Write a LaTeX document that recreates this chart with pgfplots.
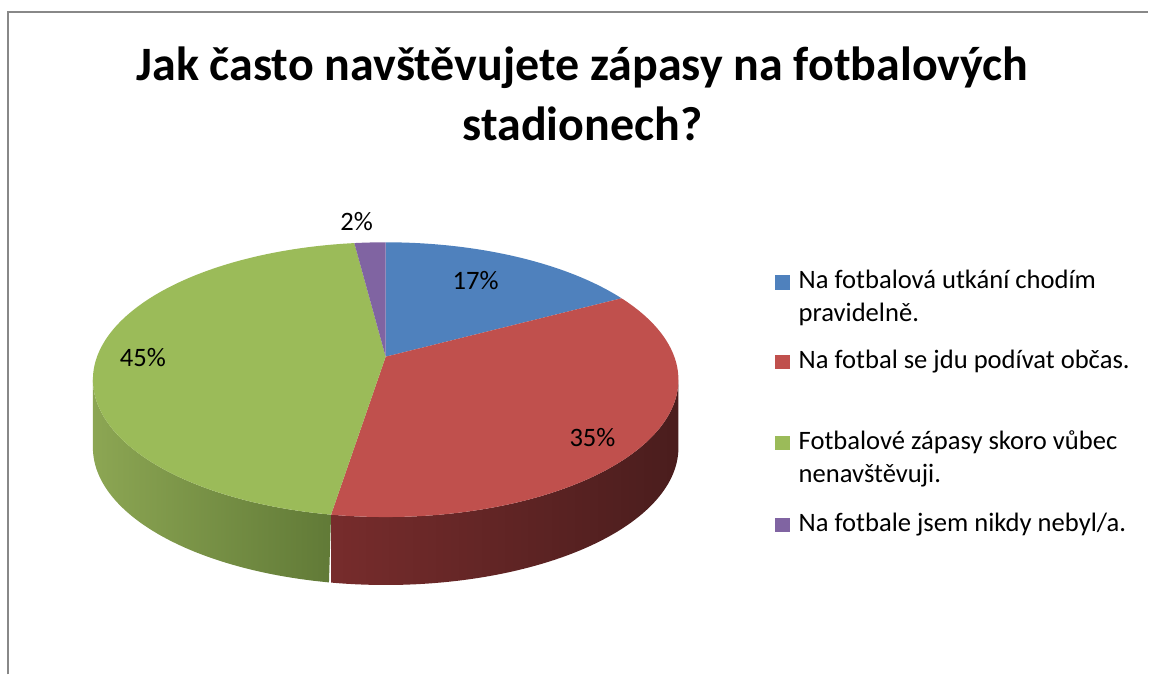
\documentclass[border=0pt]{standalone}
\usepackage{pgfplots}
\pgfplotsset{compat=1.18}
\usepackage{pgfplotstable}
\usepackage{fontspec}
\setmainfont{Carlito}
\definecolor{cBlue}{HTML}{4F81BD}
\definecolor{cRed}{HTML}{C0504D}
\definecolor{cGreen}{HTML}{9BBB59}
\definecolor{cPurple}{HTML}{8064A2}
\definecolor{gSideL}{HTML}{8CA653}
\definecolor{gSideR}{HTML}{617A37}
\definecolor{rSideL}{HTML}{772C2C}
\definecolor{rSideR}{HTML}{4A1D1D}
\definecolor{frame}{HTML}{888888}

\pgfplotstableread{
value
17
35
45
2
}\piedata

\begin{document}
\begin{tikzpicture}
\pgfplotstablegetelem{0}{value}\of\piedata \let\va\pgfplotsretval
\pgfplotstablegetelem{1}{value}\of\piedata \let\vb\pgfplotsretval
\pgfplotstablegetelem{2}{value}\of\piedata \let\vc\pgfplotsretval
\pgfplotstablegetelem{3}{value}\of\piedata \let\vd\pgfplotsretval
\pgfmathsetmacro\tot{\va+\vb+\vc+\vd}
\pgfmathsetmacro\aA{90}
\pgfmathsetmacro\aB{\aA-360*\va/\tot}
\pgfmathsetmacro\aC{\aB-360*\vb/\tot}
\pgfmathsetmacro\aD{\aC-360*\vc/\tot}
\pgfmathsetmacro\aE{\aD-360*\vd/\tot}
\pgfmathsetmacro\aL{-180+asin(0.167)}
\pgfmathsetmacro\aR{-asin(0.167)}
\begin{axis}[hide axis, scale only axis, width=574.5pt, height=337.5pt,
  xmin=0, xmax=1149, ymin=0, ymax=675, clip=false, no markers,
  declare function={
    PX(\t)=386+293*0.986*cos(\t)/(1+0.167*sin(\t));
    PY(\t)=295+137.5*(sin(\t)+0.167)/(1+0.167*sin(\t));
    SA(\u,\a,\b)=ifthenelse(\u<=1,\a+\u*(\b-\a),\b-(\u-1)*(\b-\a));
    SX(\u,\a,\b)=PX(SA(\u,\a,\b));
    SY(\u,\a,\b)=PY(SA(\u,\a,\b))-ifthenelse(\u<=1,0,68);
  }]
\path (0,0) rectangle (1149,675);
\draw[frame, line width=1pt] (8,0) -- (8,663) -- (1149,663);
% side walls
\addplot[draw=none, left color=gSideL, right color=gSideR, domain=0:2, samples=401, variable=\u]
  ({SX(\u,\aL,\aC)},{SY(\u,\aL,\aC)});
\addplot[draw=none, left color=rSideL, right color=rSideR, domain=0:2, samples=401, variable=\u]
  ({SX(\u,\aC,\aR)},{SY(\u,\aC,\aR)});
% top faces
\addplot[draw=none, fill=cBlue, domain=\aB:\aA, samples=80] ({PX(x)},{PY(x)}) -- (386,318) -- cycle;
\addplot[draw=none, fill=cRed, domain=\aC:\aB, samples=120] ({PX(x)},{PY(x)}) -- (386,318) -- cycle;
\addplot[draw=none, fill=cGreen, domain=\aD:\aC, samples=150] ({PX(x)},{PY(x)}) -- (386,318) -- cycle;
\addplot[draw=none, fill=cPurple, domain=\aE:\aD, samples=10] ({PX(x)},{PY(x)}) -- (386,318) -- cycle;
% data labels
\begin{scope}[every node/.style={font=\fontsize{13.3}{16}\selectfont, inner sep=0pt}]
\node at (476,394) {17\%};
\node at (593,237) {35\%};
\node at (143,317) {45\%};
\node at (357,453) {2\%};
\end{scope}
% title
\node[font=\bfseries\fontsize{24}{29}\selectfont, anchor=base, inner sep=0pt] at (583,594) {Jak často navštěvujete zápasy na fotbalových};
\node[font=\bfseries\fontsize{24}{29}\selectfont, anchor=base, inner sep=0pt] at (583,534) {stadionech?};
% legend
\begin{scope}[every node/.style={font=\fontsize{13.3}{16}\selectfont, inner sep=0pt, anchor=base west}]
\fill[cBlue] (776,385) rectangle (791,400);
\node at (799,386) {Na fotbalová utkání chodím};
\node at (799,353) {pravidelně.};
\fill[cRed] (776,306) rectangle (791,320);
\node at (799,306) {Na fotbal se jdu podívat občas.};
\fill[cGreen] (776,225) rectangle (791,239);
\node at (799,225) {Fotbalové zápasy skoro vůbec};
\node at (799,192) {nenavštěvuji.};
\fill[cPurple] (776,143) rectangle (791,157);
\node at (799,143) {Na fotbale jsem nikdy nebyl/a.};
\end{scope}
\end{axis}
\end{tikzpicture}
\end{document}
